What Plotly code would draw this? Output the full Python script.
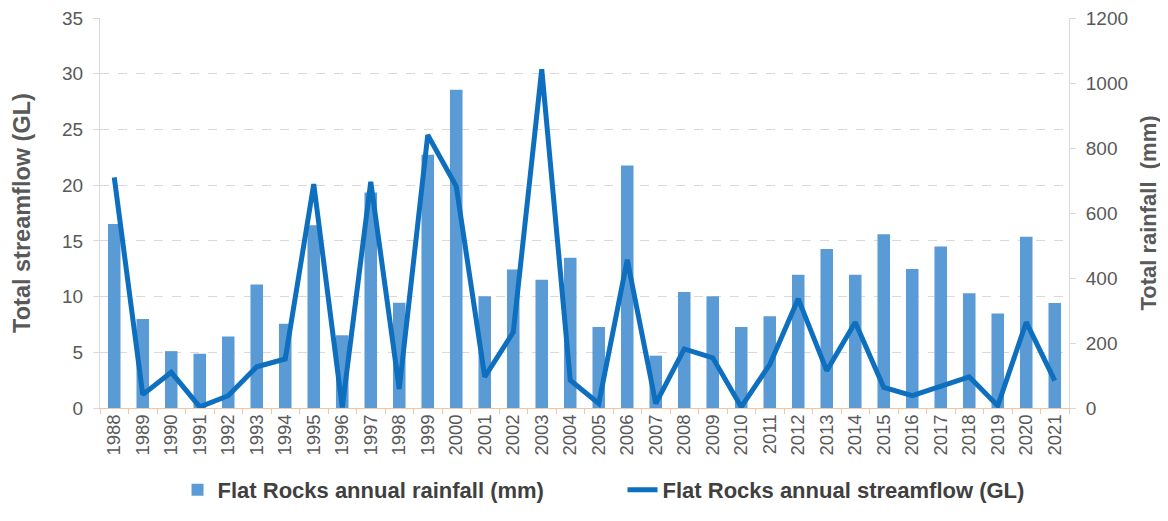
import plotly.graph_objects as go

years = [str(y) for y in range(1988, 2022)]
rainfall_mm = [566, 274, 175, 167, 220, 380, 259, 562, 224, 663,
               324, 779, 979, 344, 426, 395, 462, 249, 746, 161,
               357, 344, 249, 282, 410, 489, 410, 535, 428, 497,
               353, 291, 527, 323]
streamflow_gl = [20.7, 1.2, 3.2, 0.1, 1.1, 3.7, 4.4, 20.1, 0.05, 20.3,
                 1.7, 24.5, 19.9, 2.8, 6.8, 30.4, 2.5, 0.4, 13.3, 0.4,
                 5.3, 4.5, 0.1, 3.9, 9.8, 3.35, 7.7, 1.85, 1.1, 2.0,
                 2.8, 0.2, 7.7, 2.45]

left_ticks = [0, 5, 10, 15, 20, 25, 30, 35]
right_ticks = [0, 200, 400, 600, 800, 1000, 1200]

txt = "#595959"
fig = go.Figure()
fig.add_trace(go.Bar(
    x=years, y=rainfall_mm, name="Flat Rocks annual rainfall (mm)",
    marker=dict(color="#5B9BD5", line=dict(width=0)), width=0.44, yaxis="y"))
fig.add_trace(go.Scatter(
    x=years, y=streamflow_gl, name="Flat Rocks annual streamflow (GL)",
    mode="lines", line=dict(color="#0F6FBF", width=5), yaxis="y2"))

fig.update_layout(
    width=1160, height=513,
    margin=dict(l=92, r=99, t=10, b=113),
    paper_bgcolor="white", plot_bgcolor="white",
    font=dict(family="Arial, Liberation Sans, sans-serif", color=txt),
    showlegend=True,
    legend=dict(orientation="h", x=0.08, xanchor="left", y=-0.21, yanchor="middle",
                font=dict(size=22, color="#404040", weight="bold"), itemwidth=30,
                entrywidth=400),
    xaxis=dict(type="category", tickangle=-90, tickfont=dict(size=18.5, color=txt),
               showline=True, linecolor="#EFC7A8", linewidth=1, automargin=False,
               ticks="outside", tickson="boundaries", ticklen=5, tickcolor="#EFC7A8",
               ticklabelstandoff=-2, showgrid=False),
    yaxis=dict(side="right", range=[0, 1200], tickvals=right_ticks,
               tickfont=dict(size=19, color=txt), showgrid=False, automargin=False,
               showline=True, linecolor="#D9D9D9", ticks="outside", ticklen=6,
               tickcolor="#D9D9D9", zeroline=False, ticklabelstandoff=6,
               ticklabeloverflow="allow",
               title=dict(text="<b>Total rainfall  (mm)</b>", font=dict(size=22, color=txt), standoff=13)),
    yaxis2=dict(side="left", overlaying="y", range=[0, 35], tickvals=left_ticks,
                tickfont=dict(size=19, color=txt), showgrid=True, gridcolor="#D9D9D9",
                griddash="dash", gridwidth=1, showline=True, linecolor="#D9D9D9",
                ticks="outside", ticklen=6, tickcolor="#D9D9D9", zeroline=False,
                ticklabelstandoff=6, automargin=False, ticklabeloverflow="allow",
                title=dict(text="<b>Total streamflow (GL)</b>", font=dict(size=23.5, color=txt), standoff=24)),
)

fig.write_html("out.html")
